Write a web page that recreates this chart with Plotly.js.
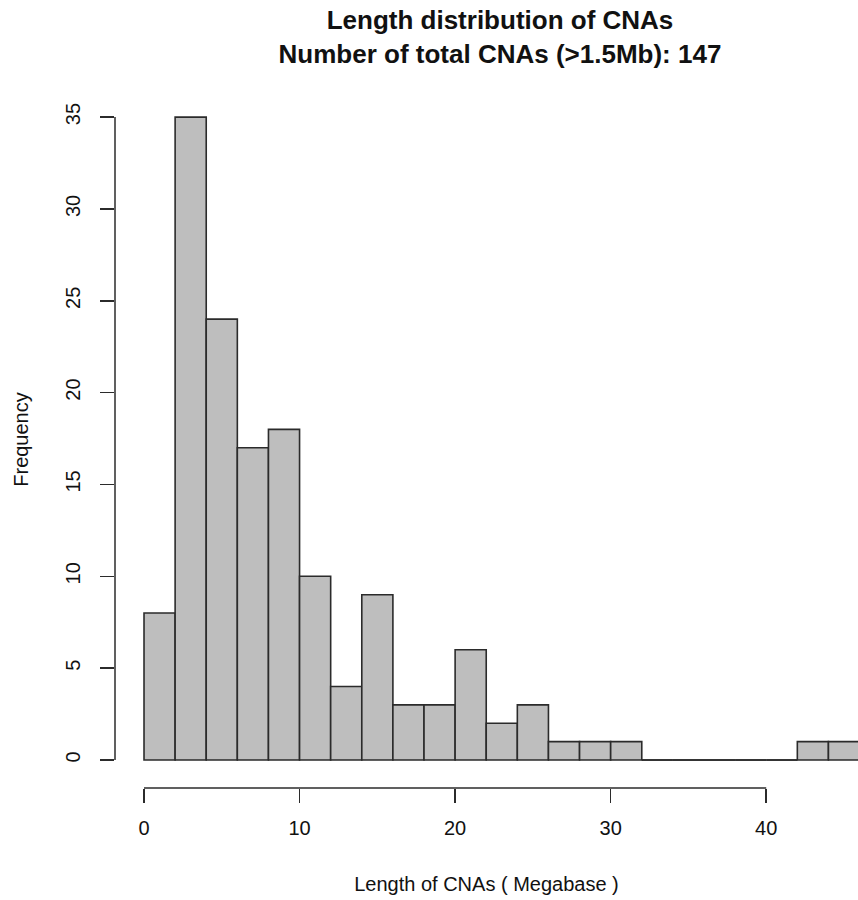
<!DOCTYPE html>
<html>
<head>
<meta charset="utf-8">
<script src="https://cdn.plot.ly/plotly-3.0.1.min.js"></script>
<style>html,body{margin:0;padding:0;background:#fff;}#chart{width:858px;height:900px;}</style>
</head>
<body>
<div id="chart"></div>
<script>
// Histogram bins (Megabase) and counts
const binStarts = [0, 2, 4, 6, 8, 10, 12, 14, 16, 18, 20, 22, 24, 26, 28, 30, 32, 34, 36, 38, 40, 42, 44];
const binWidth = 2;
const counts = [8, 35, 24, 17, 18, 10, 4, 9, 3, 3, 6, 2, 3, 1, 1, 1, 0, 0, 0, 0, 0, 1, 1];
const xTicks = [0, 10, 20, 30, 40];
const yTicks = [0, 5, 10, 15, 20, 25, 30, 35];

const titleText = "Length distribution of CNAs<br>Number of total CNAs (>1.5Mb): 147";
const xTitle = "Length of CNAs ( Megabase )";
const yTitle = "Frequency";

const centers = binStarts.map(s => s + binWidth / 2);

// zero-count bins are drawn by R as flat outlines along the baseline
const zx = [], zy = [];
binStarts.forEach((s, i) => {
  if (counts[i] === 0) { zx.push(s, s + binWidth, null); zy.push(counts[i], counts[i], null); }
});

const edge = '#2b2b2b';
const font = {family: 'Liberation Sans, Arial, sans-serif', color: '#111', size: 20};

const traces = [
  {
    type: 'bar', x: centers, y: counts, width: binWidth,
    marker: {color: '#bebebe', line: {color: edge, width: 1.6}},
    hoverinfo: 'x+y'
  },
  {
    type: 'scatter', mode: 'lines', x: zx, y: zy,
    line: {color: edge, width: 1.6}, hoverinfo: 'skip', connectgaps: false
  }
];

const layout = {
  width: 858, height: 900,
  margin: {l: 115, r: 0, t: 91, b: 112, pad: 0},
  paper_bgcolor: '#fff', plot_bgcolor: '#fff',
  showlegend: false,
  font: font,
  title: {
    text: titleText, xref: 'container', x: 500 / 858, xanchor: 'center',
    yref: 'container', y: 1 - 29 / 900, yanchor: 'middle',
    font: {family: 'Liberation Sans, Arial, sans-serif', size: 26, color: '#111', weight: 'bold'}
  },
  xaxis: {
    range: [-1.865, 45.9], tickmode: 'array', tickvals: xTicks, ticktext: xTicks.map(String),
    showgrid: false, zeroline: false, showline: false,
    ticks: 'outside', ticklen: 14, tickwidth: 1.5, tickcolor: edge,
    tickfont: font, ticklabelstandoff: 8,
    title: {text: xTitle, font: font, standoff: 38}
  },
  yaxis: {
    range: [-1.524, 36.42], tickmode: 'array', tickvals: yTicks, ticktext: yTicks.map(String),
    showgrid: false, zeroline: false, showline: false,
    ticks: 'outside', ticklen: 14, tickwidth: 1.5, tickcolor: edge,
    tickangle: -90, tickfont: font, ticklabelstandoff: 12,
    title: {text: yTitle, font: font, standoff: 28}
  },
  shapes: [
    {type: 'line', xref: 'x', yref: 'paper', x0: xTicks[0], x1: xTicks[xTicks.length - 1], y0: 0, y1: 0,
     line: {color: edge, width: 1.5}},
    {type: 'line', xref: 'paper', yref: 'y', x0: 0, x1: 0, y0: yTicks[0], y1: yTicks[yTicks.length - 1],
     line: {color: edge, width: 1.5}}
  ]
};

Plotly.newPlot('chart', traces, layout, {displayModeBar: false, staticPlot: true});
</script>
</body>
</html>
